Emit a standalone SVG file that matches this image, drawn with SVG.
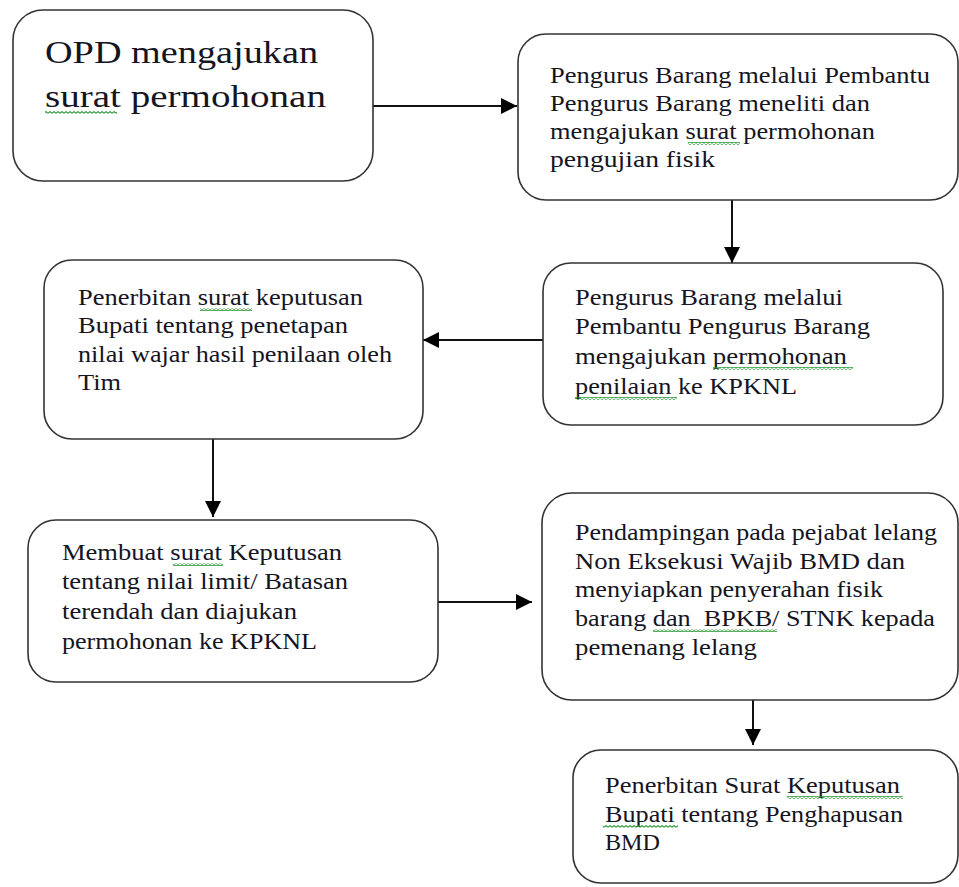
<svg xmlns="http://www.w3.org/2000/svg" width="959" height="887" viewBox="0 0 959 887">
<style>
.box{fill:#fff;stroke:#333;stroke-width:1.6}
.t{font-family:"Liberation Serif","Times New Roman",serif;font-size:24px;fill:#15151f}
.big{font-size:32px}
.conn{stroke:#111;stroke-width:2;fill:none}
.wv{fill:url(#wavy)}
</style>
<defs>
<marker id="ah" markerUnits="userSpaceOnUse" markerWidth="16" markerHeight="16" viewBox="0 0 16 16" refX="16" refY="8" orient="auto">
<path d="M0,0 L16,8 L0,16 Z" fill="#000"/>
</marker>
<pattern id="wavy" width="4" height="3" patternUnits="userSpaceOnUse">
<path d="M0,2.3 L2,0.6 L4,2.3" stroke="#2f9a3a" stroke-width="1.1" fill="none"/>
</pattern>
</defs>
<rect width="959" height="887" fill="#fff"/>

<g id="connectors">
<line class="conn" x1="373" y1="106" x2="517" y2="106" marker-end="url(#ah)"/>
<line class="conn" x1="732" y1="200" x2="732" y2="263" marker-end="url(#ah)"/>
<line class="conn" x1="543" y1="340" x2="423" y2="340" marker-end="url(#ah)"/>
<line class="conn" x1="213" y1="439" x2="213" y2="517" marker-end="url(#ah)"/>
<line class="conn" x1="438" y1="602" x2="532" y2="602" marker-end="url(#ah)"/>
<line class="conn" x1="753" y1="700" x2="753" y2="745" marker-end="url(#ah)"/>
</g>

<g id="n1">
<rect class="box" x="13" y="10" width="360" height="171" rx="30"/>
<text class="t big" x="45" y="63" textLength="273" lengthAdjust="spacingAndGlyphs">OPD mengajukan</text>
<text class="t big" x="45" y="107" textLength="281" lengthAdjust="spacingAndGlyphs">surat permohonan</text>
<rect class="wv" x="45" y="111" width="72" height="3"/>
</g>

<g id="n2">
<rect class="box" x="518" y="34" width="440" height="166" rx="28"/>
<text class="t" x="550" y="83" textLength="380" lengthAdjust="spacingAndGlyphs">Pengurus Barang melalui Pembantu</text>
<text class="t" x="550" y="111" textLength="320" lengthAdjust="spacingAndGlyphs">Pengurus Barang meneliti dan</text>
<text class="t" x="550" y="139" textLength="325" lengthAdjust="spacingAndGlyphs">mengajukan surat permohonan</text>
<text class="t" x="550" y="167" textLength="165" lengthAdjust="spacingAndGlyphs">pengujian fisik</text>
<rect class="wv" x="688" y="142" width="52" height="3"/>
</g>

<g id="n3">
<rect class="box" x="44" y="260" width="379" height="179" rx="28"/>
<text class="t" x="78" y="305" textLength="285" lengthAdjust="spacingAndGlyphs">Penerbitan surat keputusan</text>
<text class="t" x="78" y="333" textLength="270" lengthAdjust="spacingAndGlyphs">Bupati tentang penetapan</text>
<text class="t" x="78" y="362" textLength="314" lengthAdjust="spacingAndGlyphs">nilai wajar hasil penilaan oleh</text>
<text class="t" x="78" y="390" textLength="43" lengthAdjust="spacingAndGlyphs">Tim</text>
<rect class="wv" x="200" y="308" width="52" height="3"/>
</g>

<g id="n4">
<rect class="box" x="543" y="263" width="400" height="162" rx="28"/>
<text class="t" x="575" y="305" textLength="268" lengthAdjust="spacingAndGlyphs">Pengurus Barang melalui</text>
<text class="t" x="575" y="334" textLength="295" lengthAdjust="spacingAndGlyphs">Pembantu Pengurus Barang</text>
<text class="t" x="575" y="364" textLength="272" lengthAdjust="spacingAndGlyphs">mengajukan permohonan</text>
<text class="t" x="575" y="394" textLength="222" lengthAdjust="spacingAndGlyphs">penilaian ke KPKNL</text>
<rect class="wv" x="713" y="367" width="140" height="3"/>
<rect class="wv" x="575" y="397" width="102" height="3"/>
</g>

<g id="n5">
<rect class="box" x="28" y="520" width="410" height="162" rx="28"/>
<text class="t" x="62" y="560" textLength="280" lengthAdjust="spacingAndGlyphs">Membuat surat Keputusan</text>
<text class="t" x="62" y="589" textLength="286" lengthAdjust="spacingAndGlyphs">tentang nilai limit/ Batasan</text>
<text class="t" x="62" y="619" textLength="235" lengthAdjust="spacingAndGlyphs">terendah dan diajukan</text>
<text class="t" x="62" y="649" textLength="255" lengthAdjust="spacingAndGlyphs">permohonan ke KPKNL</text>
<rect class="wv" x="173" y="563" width="50" height="3"/>
</g>

<g id="n6">
<rect class="box" x="542" y="493" width="416" height="207" rx="30"/>
<text class="t" x="575" y="540" textLength="362" lengthAdjust="spacingAndGlyphs">Pendampingan pada pejabat lelang</text>
<text class="t" x="575" y="569" textLength="330" lengthAdjust="spacingAndGlyphs">Non Eksekusi Wajib BMD dan</text>
<text class="t" x="575" y="597" textLength="308" lengthAdjust="spacingAndGlyphs">menyiapkan penyerahan fisik</text>
<text class="t" x="575" y="626" textLength="360" lengthAdjust="spacingAndGlyphs" xml:space="preserve">barang dan  BPKB/ STNK kepada</text>
<text class="t" x="575" y="655" textLength="182" lengthAdjust="spacingAndGlyphs">pemenang lelang</text>
<rect class="wv" x="653" y="629" width="124" height="3"/>
</g>

<g id="n7">
<rect class="box" x="573" y="750" width="385" height="133" rx="28"/>
<text class="t" x="605" y="793" textLength="295" lengthAdjust="spacingAndGlyphs">Penerbitan Surat Keputusan</text>
<text class="t" x="605" y="822" textLength="298" lengthAdjust="spacingAndGlyphs">Bupati tentang Penghapusan</text>
<text class="t" x="605" y="850" textLength="55" lengthAdjust="spacingAndGlyphs">BMD</text>
<rect class="wv" x="787" y="796" width="116" height="3"/>
<rect class="wv" x="603" y="825" width="75" height="3"/>
</g>
</svg>
